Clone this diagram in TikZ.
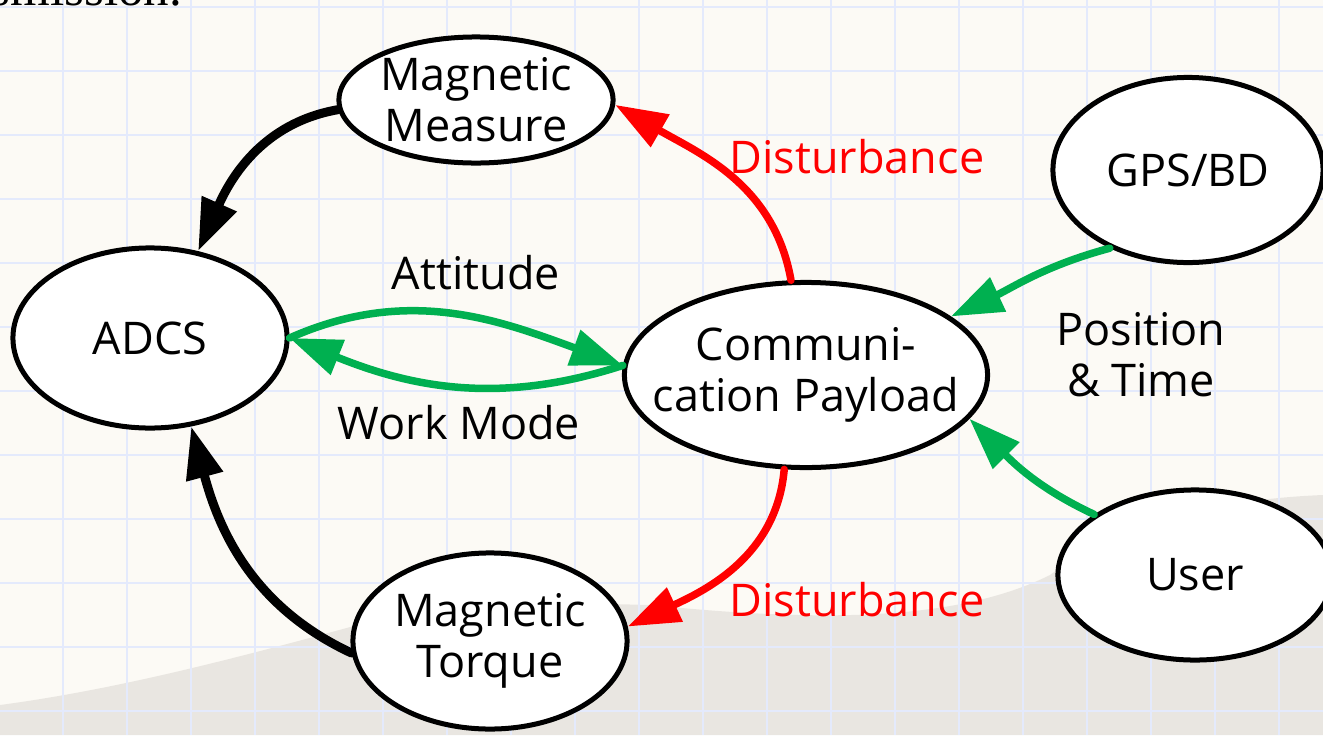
\documentclass[tikz,border=0pt]{standalone}
\usepackage{fontspec}
\setmainfont{Open Sans}
\newfontfamily\headfont{Liberation Serif}
\usetikzlibrary{shapes.geometric,arrows.meta}
\definecolor{paper}{RGB}{252,250,245}
\definecolor{gridblue}{RGB}{228,234,252}
\definecolor{hill}{RGB}{224,220,215}
\definecolor{ppgreen}{RGB}{0,176,80}
\definecolor{ppred}{RGB}{255,0,0}
\tikzset{
  blob/.style={ellipse, draw, line width=0.05cm, fill=white, inner sep=0pt},
  txt/.style={font=\fontsize{12.8pt}{14.5pt}\selectfont, align=center, inner sep=0pt},
  flow/.style={line width=0.075cm, line cap=round, -{Triangle[length=0.52cm,width=0.36cm]}},
}
\begin{document}
\begin{tikzpicture}[x=0.01cm, y=0.01cm]
	\useasboundingbox (0,0) rectangle (1323,735);
	\clip (0,0) rectangle (1323,735);
	% slide background
	\fill[paper] (0,0) rectangle (1323,735);
	\fill[hill, opacity=0.65] (0,0) -- (0,30) .. controls (150,50) and (300,95) .. (450,135) -- (650,130) .. controls (800,115) and (950,110) .. (1050,160) .. controls (1110,205) and (1200,235) .. (1323,240) -- (1323,0) -- cycle;
	\foreach \gx in {0,...,21} \draw[gridblue, line width=0.02cm] ({64*\gx-1},0) -- ({64*\gx-1},735);
	\foreach \gy in {0,...,11} \draw[gridblue, line width=0.02cm] (0,{728-64*\gy}) -- (1323,{728-64*\gy});
	\node[anchor=base west, inner sep=0pt, font=\headfont\fontsize{14.5pt}{16pt}\selectfont] (caption) at (-10,730) {smission.};
	
	% ellipses
	\node[blob, minimum width=2.74cm, minimum height=1.26cm, label={[txt]center:{Magnetic\\Measure}}] (mm) at (476,635) {};
	\node[blob, minimum width=2.74cm, minimum height=1.80cm, label={[txt]center:ADCS}] (adcs) at (150,397) {};
	\node[blob, minimum width=3.63cm, minimum height=1.85cm, label={[txt]center:{Communi-\\cation Payload}}] (comm) at (806,360) {};
	\node[blob, minimum width=2.70cm, minimum height=1.85cm, label={[txt]center:GPS/BD}] (gps) at (1188,565) {};
	\node[blob, minimum width=2.74cm, minimum height=1.70cm, label={[txt]center:User}] (user) at (1195,160) {};
	\node[blob, minimum width=2.74cm, minimum height=1.76cm, label={[txt]center:{Magnetic\\Torque}}] (mt) at (490,94) {};
	
	% labels
	\node[txt] (att) at (476,462) {Attitude};
	\node[txt] (work) at (459,312) {Work Mode};
	\node[txt, text=ppred] (dist1) at (857,578) {Disturbance};
	\node[txt, text=ppred] (dist2) at (857,135) {Disturbance};
	\node[txt] (pt) at (1141,380) {Position\\\& Time};
	
	% arrows
	\draw[flow, line width=0.09cm] (mm.184) to[out=190, in=66] (adcs.61);
	\draw[flow, line width=0.09cm] (mt.185) to[out=155, in=-75] (adcs.-65);
	\draw[flow, ppgreen] (adcs.0) to[out=24, in=160] (comm.177);
	\draw[flow, ppgreen] (comm.177) to[out=198, in=-22] (adcs.0);
	\draw[flow, ppred] (comm.99) to[out=100, in=-30] (mm.-2);
	\draw[flow, ppred] (comm.-103) to[out=-95, in=25] (mt.6);
	\draw[flow, ppgreen] (gps.225) to[out=195, in=25] (comm.22);
	\draw[flow, ppgreen] (user.149) to[out=155, in=-45] (comm.-15);
\end{tikzpicture}
\end{document}
